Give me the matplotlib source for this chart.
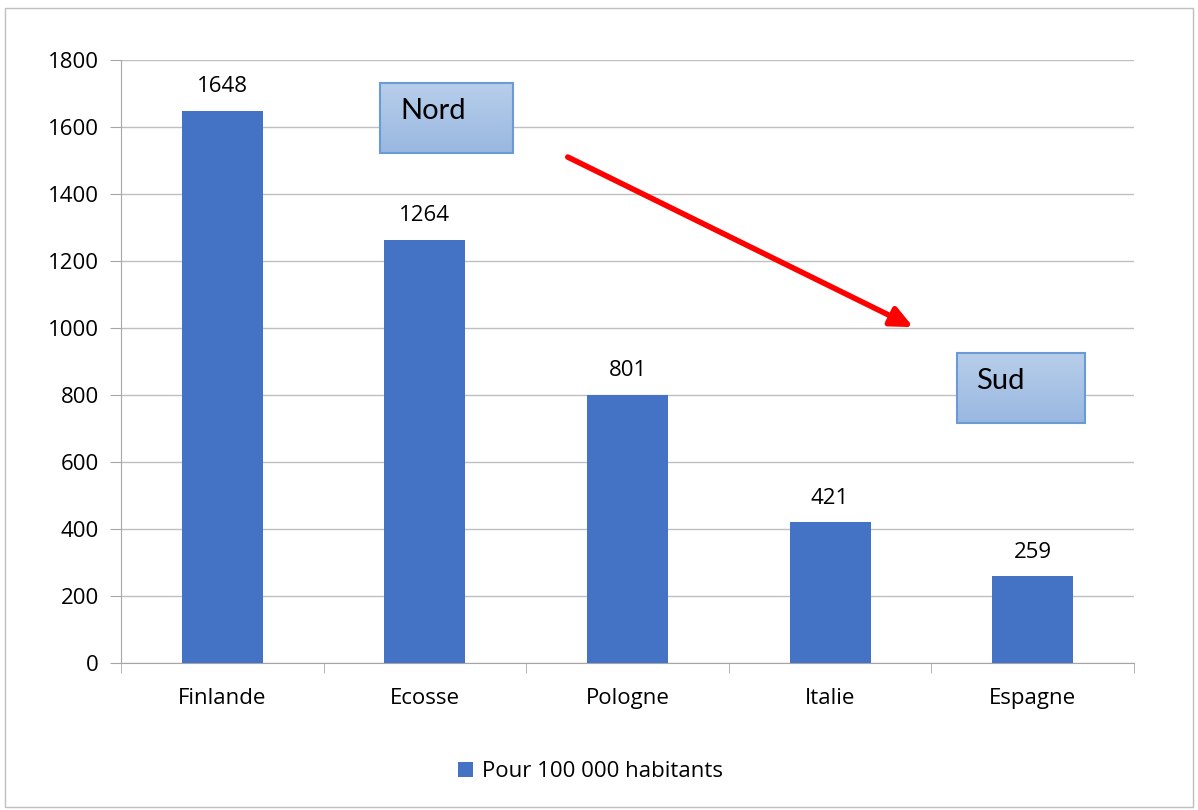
import numpy as np
import matplotlib.pyplot as plt
from matplotlib.patches import Rectangle

plt.rcParams['font.family'] = ['Open Sans', 'DejaVu Sans']

pays = ['Finlande', 'Ecosse', 'Pologne', 'Italie', 'Espagne']
valeurs = [1648, 1264, 801, 421, 259]
yticks = [0, 200, 400, 600, 800, 1000, 1200, 1400, 1600, 1800]
serie = 'Pour 100 000 habitants'

bleu = '#4472C4'
gris = '#A6A6A6'
fs = 16

fig = plt.figure(figsize=(11.98, 8.10), dpi=100)
ax = fig.add_axes([0.101, 0.1815, 0.8456, 0.7445])

x = np.arange(len(pays))
bars = ax.bar(x, valeurs, width=0.4, color=bleu, label=serie, zorder=3)
for xi, v in zip(x, valeurs):
    ax.text(xi, v + 40, str(v), ha='center', va='bottom', fontsize=fs)

ax.set_xlim(-0.5, len(pays) - 0.5)
ax.set_ylim(0, 1800)
ax.set_yticks(yticks)
ax.tick_params(axis='y', labelsize=fs, length=8, color=gris, pad=8)
ax.grid(axis='y', color='#BFBFBF', lw=1, zorder=0)

# category labels centred, tick marks between categories
ax.set_xticks(x)
ax.set_xticklabels(pays, fontsize=fs)
ax.tick_params(axis='x', length=0, pad=18)
ax.set_xticks(np.arange(-0.5, len(pays)), minor=True)
ax.tick_params(axis='x', which='minor', length=7, color=gris)

for s in ['top', 'right']:
    ax.spines[s].set_visible(False)
for s in ['left', 'bottom']:
    ax.spines[s].set_color(gris)

# Nord -> Sud arrow
ax.annotate('', xy=(0.782, 0.557), xytext=(0.441, 0.839),
            xycoords='axes fraction', textcoords='axes fraction',
            arrowprops=dict(arrowstyle='-|>,head_length=1.3,head_width=0.6',
                            color='#FF0000', lw=4, shrinkA=0, shrinkB=0))


def boite(left, top, w, h, texte):
    bx = fig.add_axes([left / 1198, 1 - (top + h) / 810, w / 1198, h / 810])
    grad = np.linspace(0, 1, 100).reshape(-1, 1)
    c1 = np.array([0.72, 0.81, 0.92])
    c2 = np.array([0.60, 0.72, 0.88])
    img = c1 + (c2 - c1) * grad[:, :, None]
    bx.imshow(img, aspect='auto', extent=[0, 1, 0, 1], origin='upper')
    bx.add_patch(Rectangle((0, 0), 1, 1, fill=False, ec='#6A9BD5', lw=1.5,
                           transform=bx.transAxes, clip_on=False))
    bx.text(0.15, 0.6, texte, fontsize=21, ha='left', va='center',
            family=['Lato', 'DejaVu Sans'], transform=bx.transAxes)
    bx.set_axis_off()


boite(380, 83, 133, 70, 'Nord')
boite(957, 353, 128, 70, 'Sud')

fig.legend(handles=[bars], labels=[serie], loc='center', bbox_to_anchor=(0.493, 0.047),
           frameon=False, fontsize=fs, handlelength=0.7, handleheight=0.7,
           handletextpad=0.4)

# outer chart border
fig.patches.append(Rectangle((5 / 1198, 3 / 810), 1188 / 1198, 799 / 810, fill=False,
                             ec='#BFBFBF', lw=1, transform=fig.transFigure))

fig.savefig('out.png', dpi=100)
